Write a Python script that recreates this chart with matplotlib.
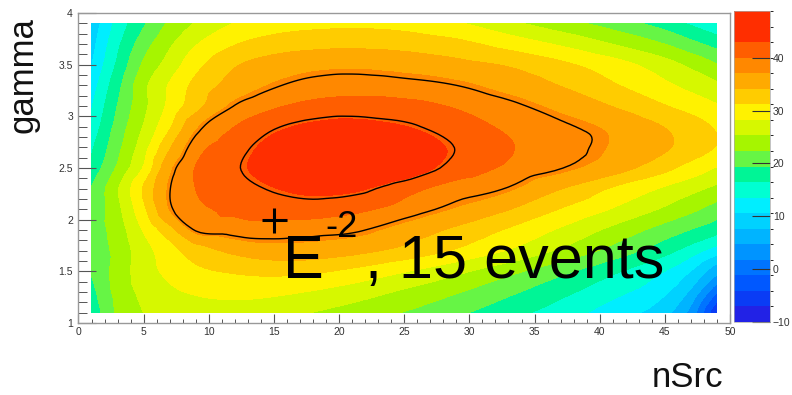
import numpy as np
import matplotlib
matplotlib.use("Agg")
import matplotlib.pyplot as plt
from matplotlib.cm import ScalarMappable
from matplotlib.colors import ListedColormap, BoundaryNorm
from matplotlib.ticker import MultipleLocator, FuncFormatter
from matplotlib.tri import Triangulation, UniformTriRefiner, CubicTriInterpolator

plt.rcParams['font.family'] = ['Liberation Sans', 'DejaVu Sans']

# grid of the TS scan (bin centres)
nsrc = [1, 3, 5, 7, 9, 12, 15, 18, 21, 25, 29, 33, 37, 41, 45, 47, 49]
gamma = [1.1, 1.3, 1.5, 1.7, 1.9, 2.1, 2.3, 2.5, 2.7, 2.9, 3.1, 3.3, 3.5, 3.7, 3.9]

# one row per gamma value, one entry per nsrc value
ts = [
    [17.5, 22.8, 25.3, 26.5, 27.0, 27.0, 26.3, 25.2, 24.0, 22.2, 20.0, 17.5, 15.0, 12.0, 8.5, 3.5, -7.0],
    [18.5, 23.3, 26.0, 27.7, 28.5, 29.0, 28.8, 28.0, 26.8, 24.8, 22.6, 20.0, 17.3, 14.4, 11.0, 7.0, -1.0],
    [19.5, 23.5, 26.8, 29.0, 30.5, 31.5, 32.0, 31.6, 30.5, 28.4, 26.0, 23.2, 20.2, 17.0, 13.5, 10.5, 5.5],
    [20.2, 23.3, 27.0, 30.0, 32.6, 34.8, 35.8, 35.8, 35.0, 33.2, 30.8, 28.0, 24.8, 21.3, 17.5, 15.0, 12.0],
    [20.5, 23.8, 28.5, 33.0, 37.8, 38.6, 38.8, 38.4, 38.0, 35.9, 33.5, 30.8, 27.8, 24.5, 21.0, 19.3, 17.5],
    [20.2, 24.5, 30.5, 37.1, 39.3, 40.5, 41.2, 41.3, 40.6, 38.9, 36.7, 34.2, 31.0, 28.0, 24.8, 23.0, 21.0],
    [19.5, 25.0, 31.5, 37.5, 40.0, 41.5, 42.8, 43.8, 43.5, 41.0, 38.8, 37.4, 34.2, 30.8, 27.8, 26.2, 24.5],
    [17.5, 22.8, 28.5, 36.4, 40.1, 42.2, 44.5, 46.5, 47.0, 45.0, 41.5, 39.5, 37.7, 35.5, 32.0, 30.0, 28.0],
    [16.0, 21.5, 27.0, 33.8, 38.8, 41.4, 44.0, 45.5, 46.0, 45.0, 42.4, 40.2, 38.5, 36.8, 34.5, 32.8, 31.0],
    [14.5, 20.5, 25.5, 30.8, 36.6, 40.0, 42.2, 43.5, 44.0, 43.0, 41.2, 39.5, 38.0, 36.5, 34.0, 32.5, 30.8],
    [13.3, 19.5, 24.5, 29.0, 33.0, 37.7, 39.6, 40.7, 41.0, 40.8, 39.7, 38.2, 36.3, 34.0, 31.3, 30.0, 28.5],
    [12.0, 18.5, 24.5, 28.5, 32.0, 35.3, 37.3, 38.5, 38.8, 38.4, 37.6, 36.0, 34.0, 31.5, 28.8, 27.3, 25.8],
    [10.5, 17.0, 22.8, 26.5, 30.2, 33.8, 35.5, 36.2, 36.5, 36.0, 35.0, 33.8, 31.8, 29.5, 26.5, 24.6, 22.5],
    [9.5, 15.8, 21.0, 24.8, 28.0, 31.0, 32.5, 33.2, 33.4, 33.0, 32.0, 30.0, 27.8, 25.2, 22.3, 20.3, 18.3],
    [8.5, 14.5, 19.0, 22.8, 25.5, 28.3, 29.6, 30.2, 30.4, 30.0, 28.5, 26.0, 23.5, 21.0, 18.0, 16.0, 14.0],
]

contour_lines = [37.6, 42.5]
inj_nsrc = 15
inj_gamma = 2.0
cbar_ticks = [-10, 0, 10, 20, 30, 40]

# 20 filled levels like ROOT's CONTZ
levels = np.linspace(-10, 48.8, 21)
band_colors = ['#2222e6', '#0a3cf5', '#0058ff', '#0074ff', '#0094ff',
               '#00b4ff', '#00d2ff', '#00eeff', '#00ffd2', '#00f596',
               '#66f545', '#a6f500', '#d6f800', '#fff200', '#ffcc00',
               '#ffaa00', '#ff8800', '#ff5e00', '#ff2e00', '#ff2e00']
cmap = ListedColormap(band_colors)
norm = BoundaryNorm(levels, cmap.N)

# smooth contouring: let matplotlib refine the triangulated grid
X, Y = np.meshgrid(nsrc, gamma)
Z = np.array(ts)
sx, sy = 48.0, 2.8
tri = Triangulation(X.ravel() / sx, Y.ravel() / sy)
interp = CubicTriInterpolator(tri, Z.ravel(), kind='geom')
rtri, rz = UniformTriRefiner(tri).refine_field(Z.ravel(), triinterpolator=interp, subdiv=3)
rtri = Triangulation(rtri.x * sx, rtri.y * sy, rtri.triangles)

fig = plt.figure(figsize=(7.92, 3.95), dpi=100)
ax = fig.add_axes([0.0991, 0.1823, 0.8226, 0.7848])

ax.tricontourf(rtri, rz, levels=levels, cmap=cmap, extend='both')
ax.tricontour(rtri, rz, levels=contour_lines, colors='k', linewidths=1.0)
ax.plot(inj_nsrc, inj_gamma, marker='+', ms=18, mew=2.2, color='k')

ax.set_xlim(0, 50)
ax.set_ylim(1, 4)
ax.xaxis.set_major_locator(MultipleLocator(5))
ax.xaxis.set_minor_locator(MultipleLocator(1))
ax.yaxis.set_major_locator(MultipleLocator(0.5))
ax.yaxis.set_minor_locator(MultipleLocator(0.1))
fmt = FuncFormatter(lambda v, p: '%g' % v)
ax.xaxis.set_major_formatter(fmt)
ax.yaxis.set_major_formatter(fmt)
ax.tick_params(axis='x', which='major', direction='in', length=6.5, width=0.8,
               color='#555', labelsize=7.5, labelcolor='#333', pad=3)
ax.tick_params(axis='x', which='minor', direction='in', length=3.2, width=0.7, color='#555')
ax.tick_params(axis='y', which='major', direction='in', length=13, width=0.8,
               color='#555', labelsize=7.5, labelcolor='#333', pad=4)
ax.tick_params(axis='y', which='minor', direction='in', length=6.5, width=0.7, color='#555')
for s in ax.spines.values():
    s.set_color('#999')
    s.set_linewidth(1)

cax = fig.add_axes([0.9268, 0.1848, 0.0455, 0.787])
cb = fig.colorbar(ScalarMappable(norm=norm, cmap=cmap), cax=cax, ticks=cbar_ticks)
cb.outline.set_linewidth(0.5)
cb.outline.set_edgecolor('#aaa')
cax.tick_params(direction='in', length=13, width=0.8, color='#333',
                labelsize=7.5, labelcolor='#333', pad=2)

fig.text(0.029, 0.663, 'gamma', rotation=90, ha='center', va='bottom',
         fontsize=25, color='#111')
fig.text(0.9129, 0.003, 'nSrc', ha='right', va='bottom', fontsize=25, color='#111')

fig.text(0.3573, 0.2962, 'E', ha='left', va='baseline', fontsize=44, color='k')
fig.text(0.4104, 0.40, '-2', ha='left', va='baseline', fontsize=26, color='k')
fig.text(0.4609, 0.2962, ', 15 events', ha='left', va='baseline', fontsize=44, color='k')

fig.savefig('out.png', dpi=100)
